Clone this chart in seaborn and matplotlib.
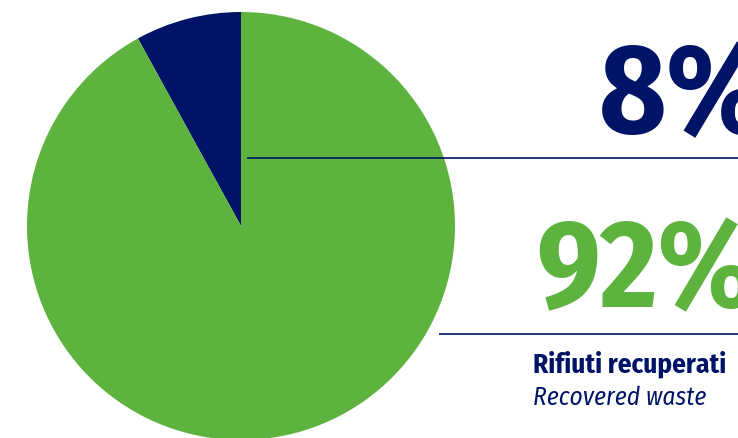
import matplotlib
matplotlib.use("Agg")
import matplotlib.pyplot as plt
import seaborn as sns

sns.set_theme(style="white")
plt.rcParams['font.family'] = ['Fira Sans Condensed', 'DejaVu Sans']

# Data
categories = ["Rifiuti non recuperati", "Rifiuti recuperati"]
shares = [8, 92]
colors = ["#001467", "#5db33e"]
label_main = "Rifiuti recuperati"
label_sub = "Recovered waste"

W, H = 738, 439
fig = plt.figure(figsize=(W / 100, H / 100), dpi=100)

# Pie axes: circle centred at (241, 227) px, radius 214 px
cx, cy, r = 241, 227, 214
pie_ax = fig.add_axes([(cx - r) / W, (H - cy - r) / H, 2 * r / W, 2 * r / H])
pie_ax.pie(shares, colors=colors, startangle=90, counterclock=True,
           wedgeprops=dict(linewidth=0))
pie_ax.set_xlim(-1, 1)
pie_ax.set_ylim(-1, 1)
pie_ax.set_aspect("equal")
pie_ax.axis("off")

# Overlay axes in pixel coordinates for lines and labels
ov = fig.add_axes([0, 0, 1, 1])
ov.set_xlim(0, W)
ov.set_ylim(H, 0)
ov.axis("off")
ov.patch.set_alpha(0)

navy = colors[0]
green = colors[1]
ov.plot([247, W], [158.5, 158.5], color=navy, lw=1.2, solid_capstyle="butt")
ov.plot([439, W], [334.5, 334.5], color=navy, lw=1.2, solid_capstyle="butt")

ov.text(599, 133, f"{shares[0]}%", color=navy, fontsize=92, fontweight="bold",
        ha="left", va="baseline")
ov.text(536, 307, f"{shares[1]}%", color=green, fontsize=89, fontweight="bold",
        ha="left", va="baseline")
ov.text(533, 372, label_main, color=navy, fontsize=19.6, fontweight="bold",
        ha="left", va="baseline")
ov.text(533, 405, label_sub, color=navy, fontsize=18.2, style="italic",
        ha="left", va="baseline")

fig.savefig("out.png", dpi=100)
